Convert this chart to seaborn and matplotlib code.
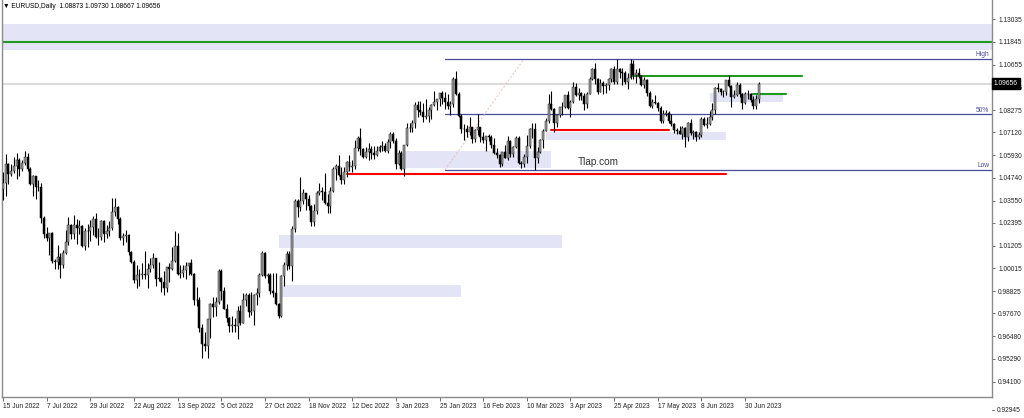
import numpy as np
import pandas as pd
import matplotlib
matplotlib.use('Agg')
import matplotlib.pyplot as plt
import matplotlib.transforms as mtransforms
import seaborn as sns

# EURUSD daily bars 15 Jun 2022 .. 7 Jul 2023, open = previous close
first_open = 1.0415
highs = [
    # Jun 2022
    1.0506, 1.0601, 1.0551, 1.0548, 1.0582, 1.0605, 1.0579, 1.0570, 1.0615, 1.0606, 1.0530, 1.0487,
    # Jul 2022
    1.0486, 1.0463, 1.0449, 1.0276, 1.0220, 1.0186, 1.0192, 1.0050, 1.0122, 1.0082, 1.0097, 1.0200,
    1.0269, 1.0233, 1.0278, 1.0258, 1.0255, 1.0228, 1.0215, 1.0234, 1.0254,
    # Aug 2022
    1.0274, 1.0293, 1.0211, 1.0254, 1.0253, 1.0227, 1.0248, 1.0369, 1.0368, 1.0328, 1.0268, 1.0186,
    1.0202, 1.0180, 1.0090, 1.0048, 1.0018, 0.9999, 1.0029, 1.0090, 1.0028, 1.0054, 1.0080,
    # Sep 2022
    1.0058, 1.0033, 0.9955, 0.9989, 1.0011, 1.0031, 1.0112, 1.0198, 1.0187, 1.0018, 1.0017, 1.0036,
    1.0030, 1.0051, 0.9976, 0.9907, 0.9853, 0.9709, 0.9671, 0.9737, 0.9820, 0.9853,
    # Oct 2022
    0.9852, 0.9999, 0.9996, 0.9905, 0.9816, 0.9749, 0.9753, 0.9745, 0.9807, 0.9810, 0.9872, 0.9875,
    0.9871, 0.9876, 0.9870, 0.9899, 0.9976, 1.0094, 1.0089, 0.9979, 0.9977,
    # Nov 2022
    0.9976, 0.9976, 0.9823, 0.9966, 1.0033, 1.0094, 1.0094, 1.0223, 1.0365, 1.0364, 1.0481, 1.0414,
    1.0396, 1.0387, 1.0334, 1.0339, 1.0407, 1.0448, 1.0427, 1.0497, 1.0390, 1.0429,
    # Dec 2022
    1.0533, 1.0546, 1.0595, 1.0531, 1.0531, 1.0564, 1.0595, 1.0565, 1.0673, 1.0695, 1.0736, 1.0628,
    1.0634, 1.0658, 1.0640, 1.0639, 1.0639, 1.0645, 1.0666, 1.0655, 1.0678, 1.0714,
    # Jan 2023
    1.0712, 1.0683, 1.0618, 1.0613, 1.0646, 1.0760, 1.0760, 1.0776, 1.0868, 1.0874, 1.0875, 1.0867,
    1.0887, 1.0846, 1.0858, 1.0927, 1.0888, 1.0915, 1.0930, 1.0920, 1.0914, 1.0873,
    # Feb 2023
    1.1000, 1.1033, 1.0925, 1.0807, 1.0758, 1.0751, 1.0790, 1.0742, 1.0730, 1.0805, 1.0740, 1.0715,
    1.0695, 1.0705, 1.0700, 1.0680, 1.0630, 1.0600, 1.0610, 1.0645,
    # Mar 2023
    1.0691, 1.0670, 1.0640, 1.0694, 1.0695, 1.0563, 1.0597, 1.0700, 1.0737, 1.0760, 1.0760, 1.0635,
    1.0678, 1.0730, 1.0785, 1.0912, 1.0930, 1.0840, 1.0808, 1.0845, 1.0870, 1.0905, 1.0926,
    # Apr 2023
    1.0880, 1.0973, 1.0970, 1.0941, 1.0920, 1.0915, 1.0925, 1.1000, 1.1050, 1.1075, 1.0995, 1.0990,
    1.0980, 1.0970, 1.0995, 1.1050, 1.1060, 1.1095, 1.1050, 1.1050,
    # May 2023
    1.1030, 1.1020, 1.1095, 1.1092, 1.1040, 1.1050, 1.1010, 1.1000, 1.0990, 1.0930, 1.0885, 1.0905,
    1.0870, 1.0850, 1.0830, 1.0830, 1.0825, 1.0805, 1.0760, 1.0735, 1.0745, 1.0745, 1.0740,
    # Jun 2023
    1.0765, 1.0780, 1.0725, 1.0720, 1.0715, 1.0790, 1.0790, 1.0790, 1.0825, 1.0865, 1.0950, 1.0970,
    1.0945, 1.0935, 1.0985, 1.1012, 1.0960, 1.0935, 1.0975, 1.0970, 1.0915, 1.0925,
    # Jul 2023
    1.0935, 1.0915, 1.0900, 1.0905, 1.0973,
]
lows = [
    1.0359, 1.0382, 1.0444, 1.0486, 1.0500, 1.0469, 1.0486, 1.0512, 1.0541, 1.0509, 1.0438, 1.0382,
    1.0366, 1.0405, 1.0236, 1.0162, 1.0145, 1.0072, 1.0032, 0.9998, 0.9998, 0.9952, 1.0006, 1.0075,
    1.0123, 1.0153, 1.0153, 1.0129, 1.0182, 1.0113, 1.0098, 1.0114, 1.0145,
    1.0178, 1.0160, 1.0123, 1.0150, 1.0141, 1.0159, 1.0172, 1.0200, 1.0274, 1.0232, 1.0151, 1.0122,
    1.0142, 1.0074, 1.0032, 0.9926, 0.9901, 0.9910, 0.9947, 0.9946, 0.9898, 0.9985, 1.0003,
    0.9910, 0.9938, 0.9877, 0.9864, 0.9877, 0.9929, 0.9995, 1.0035, 0.9966, 0.9954, 0.9956, 0.9945,
    0.9967, 0.9966, 0.9810, 0.9807, 0.9668, 0.9536, 0.9573, 0.9535, 0.9636, 0.9749,
    0.9751, 0.9815, 0.9836, 0.9789, 0.9723, 0.9671, 0.9669, 0.9668, 0.9632, 0.9707, 0.9716, 0.9807,
    0.9750, 0.9760, 0.9704, 0.9809, 0.9852, 0.9960, 0.9953, 0.9923, 0.9870,
    0.9850, 0.9810, 0.9745, 0.9748, 0.9908, 0.9991, 1.0001, 0.9936, 1.0190, 1.0270, 1.0301, 1.0338,
    1.0304, 1.0306, 1.0223, 1.0225, 1.0283, 1.0385, 1.0360, 1.0339, 1.0290, 1.0289,
    1.0399, 1.0462, 1.0484, 1.0443, 1.0443, 1.0480, 1.0508, 1.0505, 1.0522, 1.0613, 1.0596, 1.0579,
    1.0576, 1.0566, 1.0575, 1.0575, 1.0587, 1.0610, 1.0614, 1.0609, 1.0605, 1.0630,
    1.0656, 1.0519, 1.0540, 1.0513, 1.0483, 1.0640, 1.0713, 1.0713, 1.0737, 1.0790, 1.0800, 1.0766,
    1.0782, 1.0768, 1.0781, 1.0850, 1.0830, 1.0849, 1.0862, 1.0833, 1.0835, 1.0801,
    1.0844, 1.0905, 1.0793, 1.0707, 1.0670, 1.0686, 1.0700, 1.0657, 1.0660, 1.0700, 1.0660, 1.0655,
    1.0612, 1.0665, 1.0630, 1.0600, 1.0576, 1.0533, 1.0534, 1.0576,
    1.0570, 1.0585, 1.0585, 1.0630, 1.0547, 1.0524, 1.0530, 1.0550, 1.0630, 1.0681, 1.0516, 1.0550,
    1.0604, 1.0631, 1.0717, 1.0760, 1.0830, 1.0713, 1.0740, 1.0790, 1.0804, 1.0840, 1.0835,
    1.0790, 1.0865, 1.0900, 1.0880, 1.0880, 1.0830, 1.0838, 1.0910, 1.0985, 1.0965, 1.0910, 1.0920,
    1.0910, 1.0915, 1.0935, 1.0975, 1.0965, 1.0965, 1.0995, 1.0960,
    1.0965, 1.0940, 1.0990, 1.0990, 1.0970, 1.0995, 1.0955, 1.0945, 1.0900, 1.0845, 1.0840, 1.0860,
    1.0825, 1.0760, 1.0760, 1.0795, 1.0760, 1.0745, 1.0710, 1.0705, 1.0705, 1.0675, 1.0635,
    1.0665, 1.0700, 1.0675, 1.0665, 1.0675, 1.0685, 1.0745, 1.0735, 1.0750, 1.0775, 1.0805, 1.0920,
    1.0905, 1.0895, 1.0905, 1.0950, 1.0845, 1.0890, 1.0900, 1.0895, 1.0835, 1.0860,
    1.0885, 1.0870, 1.0835, 1.0835, 1.0867,
]
closes = [
    1.0446, 1.0547, 1.0495, 1.0508, 1.0535, 1.0567, 1.0522, 1.0554, 1.0583, 1.0518, 1.0442, 1.0484,
    1.0425, 1.0425, 1.0266, 1.0181, 1.0160, 1.0186, 1.0038, 1.0035, 1.0062, 1.0018, 1.0080, 1.0140,
    1.0228, 1.0180, 1.0230, 1.0211, 1.0224, 1.0119, 1.0199, 1.0196, 1.0220,
    1.0260, 1.0164, 1.0168, 1.0248, 1.0181, 1.0196, 1.0212, 1.0298, 1.0322, 1.0258, 1.0162, 1.0170,
    1.0178, 1.0088, 1.0037, 0.9943, 0.9966, 0.9967, 0.9973, 0.9966, 1.0000, 1.0017, 1.0055,
    0.9946, 0.9953, 0.9929, 0.9901, 1.0010, 0.9999, 1.0041, 1.0120, 0.9972, 0.9977, 0.9994, 1.0015,
    1.0028, 0.9971, 0.9838, 0.9838, 0.9690, 0.9606, 0.9594, 0.9736, 0.9818, 0.9801,
    0.9825, 0.9987, 0.9884, 0.9792, 0.9742, 0.9701, 0.9706, 0.9702, 0.9778, 0.9719, 0.9837, 0.9864,
    0.9772, 0.9781, 0.9861, 0.9875, 0.9967, 1.0080, 0.9964, 0.9965, 0.9882,
    0.9875, 0.9816, 0.9752, 0.9962, 1.0019, 1.0075, 1.0014, 1.0208, 1.0353, 1.0324, 1.0353, 1.0393,
    1.0363, 1.0325, 1.0244, 1.0302, 1.0397, 1.0408, 1.0399, 1.0342, 1.0329, 1.0405,
    1.0523, 1.0536, 1.0491, 1.0465, 1.0506, 1.0555, 1.0530, 1.0537, 1.0630, 1.0684, 1.0627, 1.0584,
    1.0609, 1.0624, 1.0602, 1.0594, 1.0617, 1.0637, 1.0640, 1.0613, 1.0660, 1.0703,
    1.0668, 1.0547, 1.0605, 1.0522, 1.0645, 1.0733, 1.0733, 1.0761, 1.0852, 1.0830, 1.0820, 1.0790,
    1.0795, 1.0828, 1.0855, 1.0870, 1.0885, 1.0915, 1.0890, 1.0868, 1.0850, 1.0862,
    1.0990, 1.0910, 1.0795, 1.0727, 1.0727, 1.0712, 1.0738, 1.0678, 1.0725, 1.0738, 1.0688, 1.0672,
    1.0694, 1.0685, 1.0647, 1.0605, 1.0594, 1.0547, 1.0607, 1.0576,
    1.0667, 1.0597, 1.0633, 1.0681, 1.0550, 1.0545, 1.0583, 1.0640, 1.0730, 1.0730, 1.0578, 1.0610,
    1.0670, 1.0720, 1.0769, 1.0860, 1.0834, 1.0760, 1.0800, 1.0843, 1.0845, 1.0905, 1.0840,
    1.0870, 1.0950, 1.0905, 1.0915, 1.0900, 1.0860, 1.0914, 1.0990, 1.1045, 1.0990, 1.0925, 1.0970,
    1.0955, 1.0960, 1.0990, 1.1045, 1.0973, 1.1045, 1.1025, 1.1020,
    1.0975, 1.0995, 1.1070, 1.1010, 1.1020, 1.1005, 1.0960, 1.0985, 1.0915, 1.0850, 1.0870, 1.0865,
    1.0840, 1.0770, 1.0805, 1.0815, 1.0770, 1.0755, 1.0725, 1.0720, 1.0705, 1.0735, 1.0690,
    1.0760, 1.0710, 1.0715, 1.0690, 1.0700, 1.0780, 1.0750, 1.0755, 1.0790, 1.0830, 1.0945, 1.0940,
    1.0920, 1.0920, 1.0985, 1.0955, 1.0895, 1.0905, 1.0960, 1.0910, 1.0865, 1.0910,
    1.0910, 1.0880, 1.0850, 1.0887, 1.0966,
]

tick_dates = ['2022-06-15', '2022-07-07', '2022-07-29', '2022-08-22', '2022-09-13', '2022-10-05',
              '2022-10-27', '2022-11-18', '2022-12-12', '2023-01-03', '2023-01-25', '2023-02-16',
              '2023-03-10', '2023-04-03', '2023-04-25', '2023-05-17', '2023-06-08', '2023-06-30']
tick_labels = ['15 Jun 2022', '7 Jul 2022', '29 Jul 2022', '22 Aug 2022', '13 Sep 2022', '5 Oct 2022',
               '27 Oct 2022', '18 Nov 2022', '12 Dec 2022', '3 Jan 2023', '25 Jan 2023', '16 Feb 2023',
               '10 Mar 2023', '3 Apr 2023', '25 Apr 2023', '17 May 2023', '8 Jun 2023', '30 Jun 2023']
price_ticks = [1.13035, 1.11845, 1.10655, 1.09465, 1.08275, 1.07120, 1.05930, 1.04740, 1.03550,
               1.02395, 1.01205, 1.00015, 0.98825, 0.97670, 0.96480, 0.95290, 0.94100]
scale_min = 0.92945
last_price = 1.09656

# supply / demand zones
zone_start = ['2023-01-06', '2023-03-21', '2023-06-13', '2022-11-03', '2022-11-04']
zone_end = ['2023-03-23', '2023-06-21', '2023-07-20', '2023-03-29', '2023-02-06']
zone_low = [1.0526, 1.0672, 1.0869, 1.0108, 0.9852]
zone_high = [1.0614, 1.0712, 1.0919, 1.0176, 0.9915]
band_low, band_high = 1.1142, 1.1277

# horizontal levels
level_start = ['2022-12-08', '2023-03-23', '2023-05-03', '2023-07-05']
level_end = ['2023-06-21', '2023-05-23', '2023-07-31', '2023-07-21']
level_price = [1.0494, 1.0724, 1.1008, 1.0910]
level_color = ['#ff0000', '#ff0000', '#1e9a1e', '#1e9a1e']
top_level = 1.11845

# fibonacci
fib_start = ['2023-01-27', '2023-03-09']
fib_prices = [1.1096, 1.0806, 1.0516]
fib_labels = ['High', '50%', 'Low']

dates = pd.bdate_range('2022-06-15', periods=len(closes))
calendar = pd.bdate_range('2022-06-15', periods=420)
opens = [first_open] + closes[:-1]
df = pd.DataFrame({'date': dates, 'open': opens, 'high': highs, 'low': lows, 'close': closes})
df['pos'] = np.arange(len(df))


def pos(d):
    return calendar.get_loc(pd.Timestamp(d))


sns.set_theme(style='white')
plt.rcParams['font.family'] = ['Liberation Sans', 'DejaVu Sans']

fig = plt.figure(figsize=(10.24, 4.18), dpi=100)
ax = fig.add_axes([1.5 / 1024, 21.5 / 418, 990.5 / 1024, 396.5 / 418])
xmax = 362.5
ax.set_xlim(-0.55, xmax)
ax.set_ylim(0.93329, 1.14027)

lav = '#e4e4f7'
ax.axhspan(band_low, band_high, color=lav, lw=0, zorder=0)
for s, e, lo, hi in zip(zone_start, zone_end, zone_low, zone_high):
    ax.fill_between([pos(s), pos(e)], lo, hi, color=lav, lw=0, zorder=0)

ax.axhline(last_price, color='#dcdcdc', lw=1.6, zorder=1)
ax.axhline(top_level, color='#1e9a1e', lw=1.5, zorder=1)

fib_color = '#4a4a9e'
for p, lab in zip(fib_prices, fib_labels):
    ax.plot([pos(fib_start[0]), xmax], [p, p], color=fib_color, lw=0.9, zorder=1)
    ax.text(xmax - 1, p + 0.0004, lab, color=fib_color, fontsize=4.8, ha='right', va='bottom')
ax.plot([pos(fib_start[0]), pos(fib_start[1])], [fib_prices[2], fib_prices[0]],
        color='#f3b9b9', lw=0.7, ls=(0, (2, 2)), zorder=1)

for s, e, p, c in zip(level_start, level_end, level_price, level_color):
    ax.plot([pos(s), pos(e)], [p, p], color=c, lw=1.5, zorder=2)

# candles
up = df['close'] >= df['open']
ax.vlines(df['pos'], df['low'], df['high'], color='black', lw=0.8, zorder=3)
ax.bar(df.loc[up, 'pos'], (df['close'] - df['open'])[up], bottom=df.loc[up, 'open'], width=0.72,
       color='#9c9c9c', edgecolor='#202020', lw=0.35, zorder=4)
ax.bar(df.loc[~up, 'pos'], (df['close'] - df['open'])[~up], bottom=df.loc[~up, 'open'], width=0.72,
       color='black', edgecolor='black', lw=0.35, zorder=4)

ax.text(pos('2023-04-17'), 1.0557, 'Tlap.com', fontsize=7.2, color='#333333', ha='center', va='center')

# axes styling
for side in ['left', 'right', 'bottom']:
    ax.spines[side].set_visible(True)
    ax.spines[side].set_color('#8a8a8a')
    ax.spines[side].set_linewidth(1.0)
ax.spines['top'].set_visible(False)

ax.set_xticks([pos(d) for d in tick_dates])
ax.set_xticklabels(tick_labels, ha='left')
ax.tick_params(axis='x', direction='out', length=3, width=0.6, color='#555555', pad=2,
               labelsize=4.8, labelcolor='#222222', bottom=True)
ax.yaxis.tick_right()
ax.set_yticks(price_ticks)
ax.set_yticklabels(['%.5f' % v for v in price_ticks])
ax.tick_params(axis='y', direction='out', length=2.5, width=0.6, color='#555555', pad=2,
               labelsize=4.8, labelcolor='#222222', right=True, left=False)
ax.grid(False)

yx = mtransforms.blended_transform_factory(ax.transAxes, ax.transData)
ax.text(1.0 + 2.0 / 990.5, last_price, '%.5f' % last_price, transform=yx,
        fontsize=4.8, color='white', ha='left', va='center', zorder=10, clip_on=False,
        bbox=dict(facecolor='black', edgecolor='black', pad=1.3))
ax.plot([1.0, 1.0 + 2.5 / 990.5], [-13.5 / 396.5] * 2, transform=ax.transAxes, color='#555555',
        lw=0.6, clip_on=False)
ax.text(1.0 + 4.5 / 990.5, -13.5 / 396.5, '%.5f' % scale_min, transform=ax.transAxes,
        fontsize=4.8, color='#222222', ha='left', va='center', clip_on=False)

fig.text(3 / 1024, 1 - 7 / 418, '\u25bc EURUSD,Daily  1.08873 1.09730 1.08667 1.09656',
         fontsize=4.8, color='black', ha='left', va='center')

fig.savefig('out.png', dpi=100)
